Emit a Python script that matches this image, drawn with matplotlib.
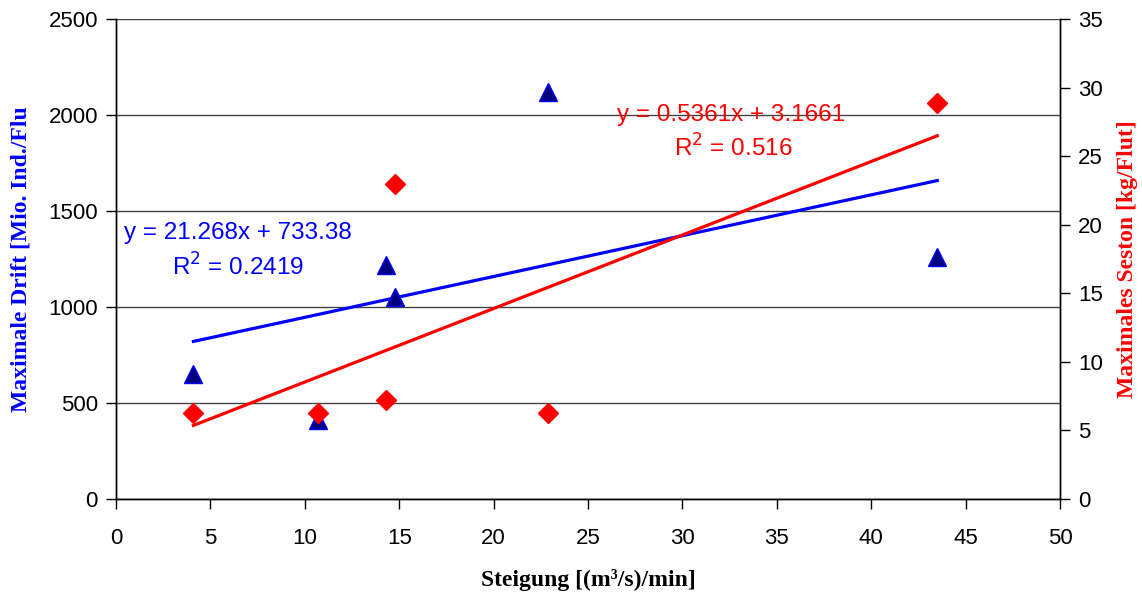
import numpy as np
import matplotlib
matplotlib.use('Agg')
import matplotlib.pyplot as plt

# data
steigung = [4.1, 10.7, 14.3, 14.8, 22.9, 43.5]
drift = [650, 410, 1220, 1050, 2120, 1260]
seston = [6.3, 6.3, 7.2, 23.0, 6.3, 28.9]

# trendline coefficients as printed on the chart
drift_fit = (21.268, 733.38, 0.2419)
seston_fit = (0.5361, 3.1661, 0.516)

plt.rcParams['font.family'] = ['Liberation Sans', 'DejaVu Sans']

fig = plt.figure(figsize=(11.42, 5.94), dpi=100)
ax = fig.add_axes([0.1016, 0.160, 0.8266, 0.808])
ax2 = ax.twinx()

# trend lines over the data range
xs = np.array([min(steigung), max(steigung)])
ax.plot(xs, drift_fit[0] * xs + drift_fit[1], color='#0000FF', lw=2.3, zorder=3)
ax.plot(steigung, drift, linestyle='none', marker='^', ms=13.5,
        mfc='#000080', mec='#0000FF', mew=1, zorder=4)

ax2.plot(xs, seston_fit[0] * xs + seston_fit[1], color='#FF0000', lw=2.3, zorder=3)
ax2.plot(steigung, seston, linestyle='none', marker='D', ms=10.5,
         mfc='#FF0000', mec='#FF0000', zorder=4)

ax.set_xlim(0, 50)
ax.set_ylim(0, 2500)
ax2.set_ylim(0, 35)
ax.set_xticks(np.arange(0, 51, 5))
ax.set_yticks(np.arange(0, 2501, 500))
ax2.set_yticks(np.arange(0, 36, 5))

ax.yaxis.grid(True, color='#444444', lw=1)
ax.set_axisbelow(True)

for a in (ax, ax2):
    a.tick_params(axis='both', direction='out', length=7, width=1,
                  labelsize=16, colors='black', pad=6)
    a.spines['top'].set_visible(False)
    for s in a.spines.values():
        s.set_linewidth(1)
        s.set_color('black')
ax.tick_params(axis='x', pad=14)

ax.set_xlabel('Steigung [(m³/s)/min]', family='Liberation Serif',
              fontweight='bold', fontsize=17, labelpad=14)
ax.set_ylabel('Maximale Drift [Mio. Ind./Flu', family='Liberation Serif',
              fontweight='bold', fontsize=17, color='#0000FF', labelpad=12)
ax2.set_ylabel('Maximales Seston [kg/Flut]', family='Liberation Serif',
               fontweight='bold', fontsize=17, color='#FF0000', labelpad=10)

# equations
ax.text(6.45, 1385, f'y = {drift_fit[0]}x + {drift_fit[1]}', color='#0000FF',
        fontsize=17.5, ha='center', va='center')
ax.text(6.45, 1208, f'R$^2$ = {drift_fit[2]}', color='#0000FF',
        fontsize=17.5, ha='center', va='center')
ax.text(32.6, 2000, f'y = {seston_fit[0]}x + {seston_fit[1]}', color='#FF0000',
        fontsize=17.5, ha='center', va='center', zorder=5)
ax.text(32.7, 1828, f'R$^2$ = {seston_fit[2]}', color='#FF0000',
        fontsize=17.5, ha='center', va='center', zorder=5)

fig.savefig('out.png', dpi=100)
